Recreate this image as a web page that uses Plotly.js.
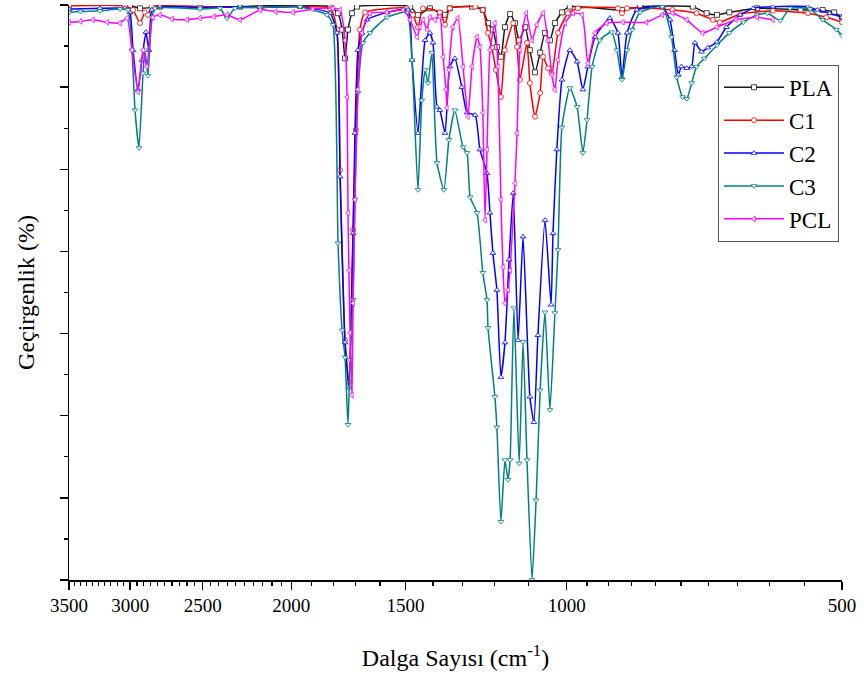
<!DOCTYPE html>
<html>
<head>
<meta charset="utf-8">
<script src="https://cdn.plot.ly/plotly-3.0.1.min.js"></script>
<style>html,body{margin:0;padding:0;background:#fff;}#chart{width:864px;height:682px;}</style>
</head>
<body>
<div id="chart"></div>
<script>
// Series names
const seriesNames = ["PLA", "C1", "C2", "C3", "PCL"];

// Wavenumbers (cm-1) and transmittance (arbitrary %, no scale shown)
const plaWn = [3500,3002,2927,2784,2517,2276,2163,1956,1814,1778,1760,1747,1734,1717,1695,1483,1454,1411,1376,1358,1342,1269,1235,1219,1204,1192,1180,1168,1153,1139,1127,1110,1097,1083,1069,1056,1043,1030,1012,992,870,831,728,703,685,664,619,555,525,510,500];
const plaT  = [70.0,69.9,69.6,69.8,69.8,69.8,69.9,69.9,69.8,69.0,67.0,63.5,67.0,69.0,69.8,69.8,68.8,69.6,69.0,68.8,69.6,69.8,69.4,67.8,67.0,64.9,63.7,67.3,68.9,67.8,65.7,67.3,64.5,61.8,64.2,66.6,65.7,67.8,69.1,69.8,69.4,69.8,69.8,69.0,68.8,69.1,69.6,69.4,69.4,69.1,68.5];

const c1Wn = [3500,3040,2979,2927,2891,2869,2841,2517,2163,1814,1783,1769,1747,1730,1712,1700,1683,1661,1495,1472,1454,1436,1376,1358,1342,1259,1235,1219,1207,1195,1180,1168,1144,1133,1125,1105,1097,1083,1069,1061,1048,1038,1022,997,972,879,870,859,766,721,692,680,646,595,545,520,500];
const c1T  = [69.9,69.9,69.4,67.8,69.1,68.8,69.8,69.8,69.7,69.6,67.0,49.9,29.2,24.1,42.6,54.8,67.0,69.1,69.6,68.8,67.3,69.6,69.1,67.6,69.6,69.8,69.4,66.6,64.8,62.1,58.8,64.5,67.8,64.9,60.9,65.4,60.5,56.4,59.3,63.7,62.3,61.7,66.6,69.0,69.6,69.6,69.0,69.6,69.4,69.0,68.2,67.9,68.9,69.3,69.0,68.5,67.9];

const c2Wn = [3500,3238,3040,3002,2979,2942,2913,2884,2862,2841,2784,2517,2276,2163,1956,1814,1783,1769,1747,1730,1712,1704,1691,1674,1653,1572,1491,1476,1454,1428,1411,1400,1386,1376,1358,1342,1325,1302,1285,1259,1244,1222,1213,1204,1192,1180,1168,1156,1144,1130,1116,1097,1086,1075,1056,1040,1035,1025,1012,992,974,960,948,931,897,879,870,859,838,786,771,762,755,749,739,730,724,712,701,685,669,646,625,595,545,532,516,500];
const c2T  = [69.5,69.6,69.6,69.1,64.5,59.7,63.3,66.7,64.5,69.4,69.8,69.7,69.8,69.7,69.8,69.0,66.6,49.1,28.9,23.4,42.2,54.4,64.5,66.6,68.2,69.1,69.4,63.3,54.4,65.7,66.6,65.4,57.6,57.2,54.4,62.5,63.5,60.0,56.9,56.6,52.4,49.5,44.7,39.8,35.3,24.7,28.9,39.0,47.1,29.2,41.8,22.3,19.2,29.8,43.8,33.5,42.2,52.4,60.9,64.5,63.1,59.7,62.5,66.1,68.4,66.6,61.2,66.6,69.4,69.8,68.2,64.5,61.5,62.5,62.3,62.5,65.4,64.3,64.8,65.5,67.3,68.8,69.6,69.8,69.8,69.4,69.0,68.5];

const c3Wn = [3500,3400,3238,3078,3017,2987,2964,2935,2905,2891,2869,2841,2820,2517,2394,2352,2305,2163,1956,1828,1801,1778,1760,1747,1734,1725,1712,1704,1691,1670,1641,1572,1495,1476,1454,1440,1428,1418,1404,1386,1362,1345,1325,1298,1285,1275,1253,1235,1222,1219,1198,1192,1180,1168,1159,1153,1142,1127,1116,1105,1091,1080,1069,1056,1043,1030,1022,1012,992,974,960,950,938,920,893,881,870,859,848,831,786,768,758,747,739,730,721,707,685,664,641,619,603,584,570,542,525,507,500];
const c3T  = [69.1,69.2,69.3,69.5,69.4,64.5,57.2,52.6,61.7,64.5,61.4,68.5,69.6,69.5,69.6,68.4,69.6,69.7,69.8,68.8,67.6,41.0,30.4,27.1,18.9,26.8,34.1,46.3,59.3,65.4,66.6,68.5,69.1,63.3,47.5,58.4,62.1,60.5,64.2,50.8,47.5,53.6,57.2,52.7,52.0,46.6,44.7,37.4,34.1,30.7,22.3,18.6,7.1,14.6,12.2,14.6,33.1,14.2,29.0,14.6,0.0,9.7,23.1,32.6,20.7,32.5,40.2,55.1,59.9,57.6,52.0,56.0,62.5,65.7,66.7,64.5,60.9,64.5,67.0,69.1,69.8,66.1,61.2,58.8,58.6,60.5,62.5,63.5,65.1,66.6,67.9,68.8,69.0,68.1,69.6,69.5,68.2,67.0,66.3];

const pclWn = [3500,3400,3295,3180,3078,3024,2987,2942,2905,2877,2834,2784,2700,2600,2517,2430,2352,2276,2163,2080,1991,1894,1801,1769,1747,1738,1734,1730,1725,1717,1712,1704,1691,1674,1641,1572,1509,1483,1457,1447,1436,1421,1411,1393,1376,1365,1355,1352,1345,1332,1315,1298,1282,1269,1253,1244,1235,1228,1222,1213,1198,1189,1180,1174,1168,1159,1153,1139,1133,1125,1107,1091,1078,1061,1048,1038,1030,1022,1004,984,962,948,931,904,868,818,786,766,739,710,685,653,619,595];
const pclT  = [67.9,68.0,68.2,67.9,67.8,68.4,64.5,59.4,64.5,62.5,68.5,68.8,68.3,68.2,68.4,68.6,68.8,68.2,69.4,69.2,69.1,69.5,69.6,69.4,65.7,58.8,44.7,37.7,30.1,22.5,33.7,46.3,59.7,66.6,69.0,69.1,69.4,68.2,66.1,67.3,68.2,67.0,68.5,68.2,68.6,63.7,59.7,57.5,62.1,67.3,68.4,62.5,56.4,62.5,66.1,64.9,56.9,43.8,52.4,64.5,67.8,62.5,46.3,38.1,33.7,35.3,37.7,48.3,54.4,64.5,69.0,65.7,67.6,69.0,65.7,61.5,59.7,63.3,67.8,69.0,68.8,62.9,66.6,67.8,67.9,67.9,68.8,69.0,68.2,66.6,67.3,68.2,68.5,68.2];

const wnSets = [plaWn, c1Wn, c2Wn, c3Wn, pclWn];
const tSets  = [plaT, c1T, c2T, c3T, pclT];
const colors = ["#1a1a1a", "#ff0000", "#0000ff", "#008080", "#ff00ff"];
const symbols = ["square", "circle", "triangle-up", "triangle-down", "triangle-left"];

// Axis ticks
const xTickVals = [3500, 3000, 2500, 2000, 1500, 1000, 500];
const xTickText = ["3500", "3000", "2500", "2000", "1500", "1000", "500"];
const xMinorVals = [3450,3400,3350,3300,3250,3200,3150,3100,3050,2950,2900,2850,2800,2750,2700,2650,2600,2550,2450,2400,2350,2300,2250,2200,2150,2100,2050,1900,1800,1700,1600,1400,1300,1200,1100,950,900,850,800,750,700,650,600,550];

const font = "'Liberation Serif', 'Times New Roman', 'DejaVu Serif', serif";

const traces = seriesNames.map((name, i) => ({
  x: wnSets[i],
  y: tSets[i],
  name: name,
  legendgroup: name,
  type: "scatter",
  mode: "lines+markers",
  line: {color: colors[i], width: 1.5, shape: "spline", smoothing: 0.5},
  marker: {symbol: symbols[i], size: 5, color: "#ffffff", line: {color: colors[i], width: 0.8}},
  cliponaxis: true
}));

const layout = {
  width: 864,
  height: 682,
  margin: {l: 69, r: 22, t: 5, b: 102},
  paper_bgcolor: "#ffffff",
  plot_bgcolor: "#ffffff",
  font: {family: font, color: "#000", size: 18},
  showlegend: true,
  legend: {
    x: 0.8396, y: 0.896, xanchor: "left", yanchor: "top",
    bgcolor: "#ffffff", bordercolor: "#555555", borderwidth: 1,
    font: {family: font, size: 23, color: "#000"},
    itemwidth: 60,
    traceorder: "grouped",
    tracegroupgap: 0
  },
  xaxis: {
    type: "log",
    range: [Math.log10(3500), Math.log10(500)],
    tickmode: "array",
    tickvals: xTickVals,
    ticktext: xTickText,
    ticks: "outside",
    ticklen: 8,
    tickwidth: 1.5,
    tickcolor: "#000",
    showline: true,
    linecolor: "#000",
    linewidth: 1.5,
    showgrid: false,
    zeroline: false,
    tickfont: {family: font, size: 19, color: "#000"},
    minor: {tickmode: "array", tickvals: xMinorVals, ticks: "outside", ticklen: 4, tickwidth: 1.2, tickcolor: "#000", showgrid: false},
    title: {text: "Dalga Sayısı (cm<sup>-1</sup>)", font: {family: font, size: 24, color: "#000"}, standoff: 34}
  },
  yaxis: {
    range: [0, 70],
    dtick: 10,
    tick0: 0,
    ticks: "outside",
    ticklen: 8,
    tickwidth: 1.5,
    tickcolor: "#000",
    showticklabels: false,
    showline: true,
    linecolor: "#000",
    linewidth: 1.5,
    showgrid: false,
    zeroline: false,
    minor: {dtick: 5, ticks: "outside", ticklen: 4, tickwidth: 1.2, tickcolor: "#000", showgrid: false},
    title: {text: "Geçirgenlik (%)", font: {family: font, size: 24, color: "#000"}, standoff: 18}
  }
};

Plotly.newPlot("chart", traces, layout, {displayModeBar: false, staticPlot: true});
</script>
</body>
</html>
